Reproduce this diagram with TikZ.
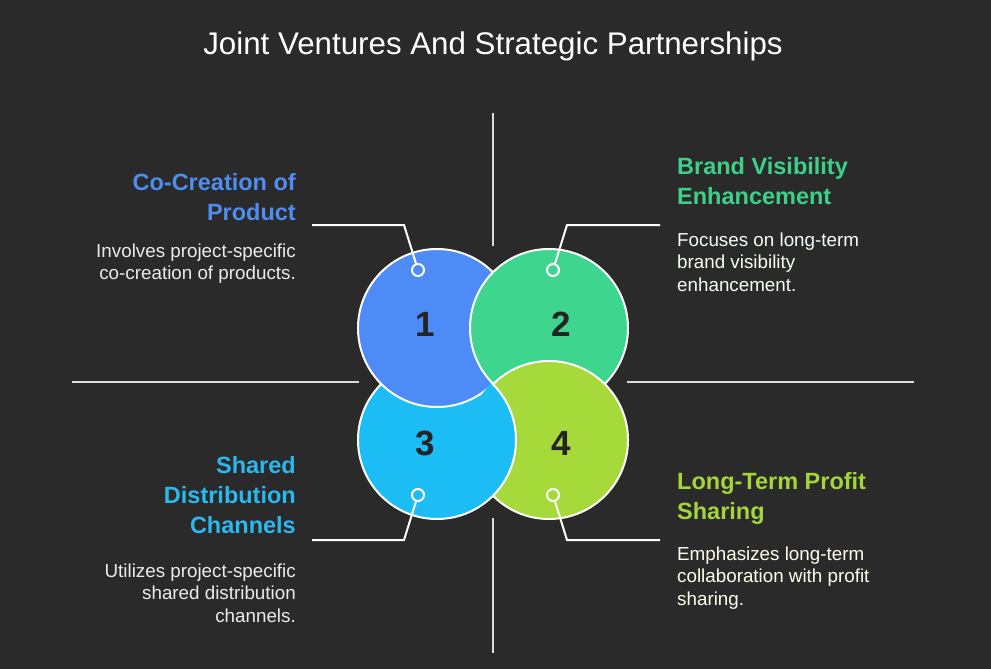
\documentclass[tikz,border=0pt]{standalone}
\usepackage{fontspec}
\setmainfont{Liberation Sans}
\usetikzlibrary{positioning}
\definecolor{Ground}{HTML}{2A2A2A}
\definecolor{BlueDisc}{HTML}{4D8CF6}
\definecolor{GreenDisc}{HTML}{3ED68F}
\definecolor{SkyDisc}{HTML}{1CBDF5}
\definecolor{LimeDisc}{HTML}{A6D93A}
\definecolor{BlueHead}{HTML}{4F8DF0}
\definecolor{GreenHead}{HTML}{3ECF88}
\definecolor{SkyHead}{HTML}{29B9EE}
\definecolor{LimeHead}{HTML}{A4D63A}
\definecolor{Ink}{HTML}{242424}
\definecolor{Rule}{HTML}{DADADA}

\begin{document}
\begin{tikzpicture}[x=1pt, y=-1pt,
  bigdisc/.style={circle, minimum size=158pt, inner sep=0pt, draw=white, line width=2pt},
  pinring/.style={circle, minimum size=12pt, inner sep=0pt, draw=white, line width=2pt},
  numtxt/.style={font=\fontsize{35}{35}\selectfont\bfseries, text=Ink},
  headtxt/.style={font=\fontsize{23.5}{30}\selectfont\bfseries, inner sep=0pt},
  desctxt/.style={font=\fontsize{18.8}{22.5}\selectfont, inner sep=0pt},
  axisline/.style={draw=Rule, line width=2pt},
  leader/.style={draw=white, line width=2pt}
]
  \fill[Ground] (0,0) rectangle (991,669);
  \useasboundingbox (0,0) rectangle (991,669);

  \node[font=\fontsize{31.3}{31.3}\selectfont, text=white, anchor=base] (title) at (493,55)
    {Joint Ventures And Strategic Partnerships};

  % cross
  \draw[axisline] (493,113) -- (493,246);
  \draw[axisline] (493,518) -- (493,653);
  \draw[axisline] (72,382) -- (359,382);
  \draw[axisline] (627,382) -- (914,382);

  % discs, 3 is redrawn inside 4 so the overlaps turn round
  \node[bigdisc, fill=SkyDisc]   (c3) at (437,440) {};
  \node[bigdisc, fill=BlueDisc]  (c1) at (437,328) {};
  \node[bigdisc, fill=GreenDisc] (c2) at (549,328) {};
  \node[bigdisc, fill=LimeDisc]  (c4) at (549,440) {};
  \begin{scope}
    \clip (c4.center) circle[radius=81pt];
    \node[bigdisc, fill=SkyDisc] at (c3.center) {};
  \end{scope}

  \node[numtxt] (n1) at (425,324) {1};
  \node[numtxt] (n2) at (561,324) {2};
  \node[numtxt] (n3) at (425,443) {3};
  \node[numtxt] (n4) at (561,443) {4};

  \node[pinring, fill=BlueDisc]  (p1) at (418,270) {};
  \node[pinring, fill=GreenDisc] (p2) at (553,270) {};
  \node[pinring, fill=SkyDisc]   (p3) at (418,495) {};
  \node[pinring, fill=LimeDisc]  (p4) at (553,495) {};

  \coordinate (k1) at (404,225); \coordinate (e1) at (312,225);
  \coordinate (k2) at (567,225); \coordinate (e2) at (660,225);
  \coordinate (k3) at (404,540); \coordinate (e3) at (312,540);
  \coordinate (k4) at (567,540); \coordinate (e4) at (660,540);
  \draw[leader] (p1) -- (k1) -- (e1);
  \draw[leader] (p2) -- (k2) -- (e2);
  \draw[leader] (p3) -- (k3) -- (e3);
  \draw[leader] (p4) -- (k4) -- (e4);

  % base anchor sits on the last line
  \node[headtxt, text=BlueHead, align=right, anchor=base east] (h1) at (296,220)
    {Co-Creation of\\Product};
  \node[desctxt, text=white!92!black, align=right, anchor=base east] (d1) at (296,279.5)
    {Involves project-specific\\co-creation of products.};

  \node[headtxt, text=GreenHead, align=left, anchor=base west] (h2) at (677,204)
    {Brand Visibility\\Enhancement};
  \node[desctxt, text=green!4!white, align=left, anchor=base west] (d2) at (677,291)
    {Focuses on long-term\\brand visibility\\enhancement.};

  \node[headtxt, text=SkyHead, align=right, anchor=base east] (h3) at (296,533.5)
    {Shared\\Distribution\\Channels};
  \node[desctxt, text=white!92!black, align=right, anchor=base east] (d3) at (296,622)
    {Utilizes project-specific\\shared distribution\\channels.};

  \node[headtxt, text=LimeHead, align=left, anchor=base west] (h4) at (677,519.5)
    {Long-Term Profit\\Sharing};
  \node[desctxt, text=yellow!8!white, align=left, anchor=base west] (d4) at (677,605)
    {Emphasizes long-term\\collaboration with profit\\sharing.};
\end{tikzpicture}
\end{document}
